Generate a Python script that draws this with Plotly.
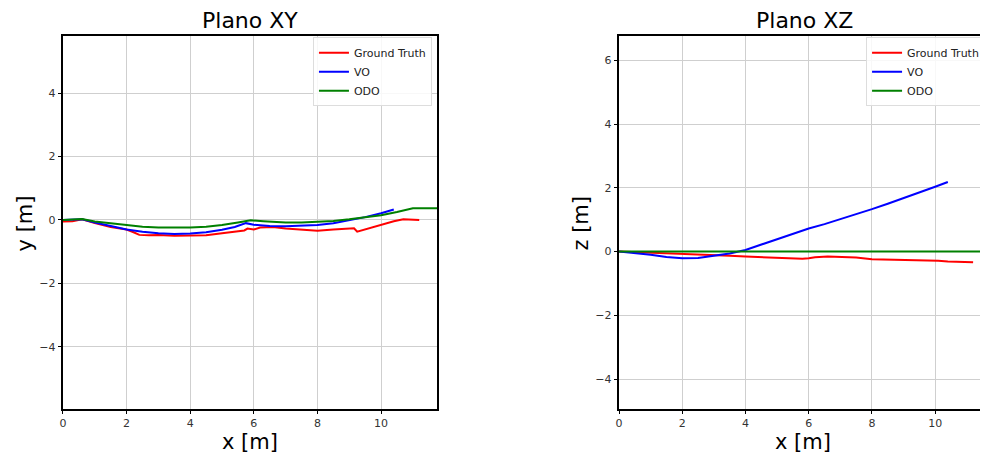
import plotly.graph_objects as go

# Ground truth trajectory (x, y, z in metres)
gt_x = [0.0, 0.3, 0.6, 1.0, 1.5, 2.0, 2.2, 2.4, 2.7, 3.0, 3.5, 4.0, 4.5, 5.0, 5.4, 5.7, 5.8,
        6.0, 6.2, 6.6, 7.0, 7.5, 8.0, 8.5, 9.0, 9.15, 9.25, 9.5, 9.8, 10.1, 10.4, 10.7, 11.0, 11.2]
gt_y = [-0.05, -0.04, 0.02, -0.1, -0.22, -0.3, -0.38, -0.47, -0.48, -0.47, -0.5, -0.5, -0.48,
        -0.42, -0.37, -0.33, -0.27, -0.3, -0.24, -0.22, -0.27, -0.3, -0.34, -0.3, -0.28, -0.26,
        -0.37, -0.3, -0.2, -0.12, -0.04, 0.02, 0.0, 0.0]
gt_z = [0.0, -0.01, -0.02, -0.03, -0.04, -0.06, -0.07, -0.08, -0.1, -0.11, -0.13, -0.16, -0.18,
        -0.21, -0.23, -0.24, -0.23, -0.21, -0.18, -0.16, -0.17, -0.19, -0.24, -0.25, -0.26, -0.26,
        -0.27, -0.28, -0.28, -0.29, -0.31, -0.32, -0.33, -0.34]

# Visual odometry
vo_x = [0.0, 0.6, 1.0, 1.5, 2.0, 2.5, 3.0, 3.5, 4.0, 4.5, 5.0, 5.4, 5.75, 6.0, 6.5, 7.0, 7.5,
        8.0, 8.5, 9.0, 9.5, 10.0, 10.4]
vo_y = [0.0, 0.02, -0.08, -0.2, -0.3, -0.37, -0.42, -0.44, -0.43, -0.39, -0.31, -0.22, -0.1,
        -0.15, -0.19, -0.2, -0.19, -0.16, -0.1, -0.01, 0.09, 0.21, 0.33]
vo_z = [0.0, -0.05, -0.1, -0.17, -0.21, -0.2, -0.14, -0.06, 0.05, 0.22, 0.39, 0.52, 0.64, 0.72,
        0.86, 1.01, 1.17, 1.33, 1.5, 1.67, 1.85, 2.03, 2.18]

# Wheel odometry
odo_x = [0.0, 0.6, 1.0, 1.5, 2.0, 2.5, 3.0, 3.5, 4.0, 4.5, 5.0, 5.5, 5.9, 6.3, 7.0, 7.5, 8.0,
         8.5, 9.0, 9.5, 10.0, 10.5, 11.0, 12.0]
odo_y = [0.0, 0.03, -0.05, -0.11, -0.17, -0.21, -0.24, -0.25, -0.24, -0.21, -0.16, -0.08, -0.01,
         -0.04, -0.08, -0.08, -0.06, -0.03, 0.02, 0.08, 0.15, 0.25, 0.37, 0.37]
odo_z = [0.0, 0.0, 0.0, 0.0, 0.0, 0.0, 0.0, 0.0, 0.0, 0.0, 0.0, 0.0, 0.0, 0.0, 0.0, 0.0, 0.0,
         0.0, 0.0, 0.0, 0.0, 0.0, 0.0, 0.0]

x_ticks = [0, 2, 4, 6, 8, 10]
y_ticks = [-4, -2, 0, 2, 4]
z_ticks = [-4, -2, 0, 2, 4, 6]

FONT = "DejaVu Sans"
series = [
    ("Ground Truth", "red", gt_x, gt_y, gt_z),
    ("VO", "blue", vo_x, vo_y, vo_z),
    ("ODO", "green", odo_x, odo_y, odo_z),
]

fig = go.Figure()
for name, color, xs, ys, zs in series:
    fig.add_trace(go.Scatter(x=xs, y=ys, mode="lines", name=name,
                             line=dict(color=color, width=2),
                             xaxis="x", yaxis="y", legend="legend"))
    fig.add_trace(go.Scatter(x=xs, y=zs, mode="lines", name=name,
                             line=dict(color=color, width=2),
                             xaxis="x2", yaxis="y2", legend="legend2"))

axis_style = dict(
    showgrid=True, gridcolor="#cfcfcf", gridwidth=1,
    showline=True, linecolor="black", linewidth=1.5, mirror=True,
    ticks="outside", ticklen=3.5, tickcolor="black",
    tickfont=dict(family=FONT, size=11, color="#333333"),
    zeroline=False, automargin=False,
)

legend_style = dict(
    bgcolor="rgba(255,255,255,0.85)", bordercolor="#dddddd", borderwidth=1,
    font=dict(family=FONT, size=11, color="#222222"),
    xanchor="right", yanchor="top", tracegroupgap=0,
)

label_font = dict(family=FONT, size=21, color="black")
title_font = dict(family=FONT, size=22, color="black")


def text_note(text, x, y, font, angle=0):
    return dict(text=text, x=x, y=y, xref="paper", yref="paper", xanchor="center",
                yanchor="middle", textangle=angle, showarrow=False, font=font)


# page body keeps an 8px margin, so the figure is 8px smaller than the window
fig.update_layout(
    width=980, height=449,
    margin=dict(l=0, r=0, t=0, b=0),
    paper_bgcolor="white", plot_bgcolor="white",
    font=dict(family=FONT),
    xaxis=dict(domain=[0.0561, 0.4378], range=[0, 11.76], tickvals=x_ticks, anchor="y",
               **axis_style),
    yaxis=dict(domain=[0.1069, 0.9376], range=[-5.96, 5.8], tickvals=y_ticks, anchor="x",
               **axis_style),
    xaxis2=dict(domain=[0.6235, 0.999], range=[0, 11.64], tickvals=x_ticks, anchor="y2",
                **axis_style),
    yaxis2=dict(domain=[0.1069, 0.9376], range=[-4.94, 6.76], tickvals=z_ticks, anchor="x2",
                **axis_style),
    legend=dict(x=0.4326, y=0.935, **legend_style),
    legend2=dict(x=0.997, y=0.935, **legend_style),
    annotations=[
        text_note("Plano XY", 0.247, 0.973, title_font),
        text_note("Plano XZ", 0.813, 0.973, title_font),
        text_note("x [m]", 0.247, 0.0334, label_font),
        text_note("x [m]", 0.811, 0.0334, label_font),
        text_note("y [m]", 0.0173, 0.52, label_font, -90),
        text_note("z [m]", 0.5837, 0.52, label_font, -90),
    ],
)

fig.write_html("out.html")
